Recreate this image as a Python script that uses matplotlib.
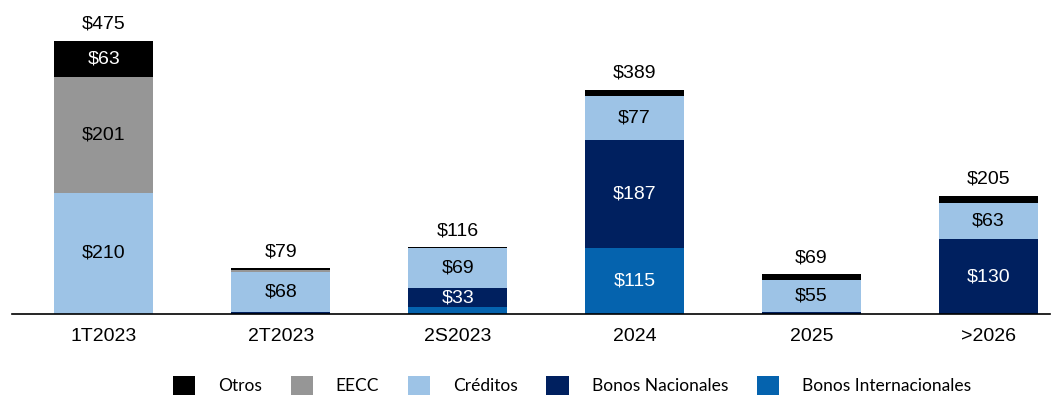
import numpy as np
import matplotlib.pyplot as plt
from matplotlib.patches import Patch

# Vencimientos por periodo (MM$)
periods = ['1T2023', '2T2023', '2S2023', '2024', '2025', '>2026']
bonos_int = [0, 0, 12, 115, 0, 0]
bonos_nac = [0, 4, 33, 187, 4, 130]
creditos = [210, 68, 69, 77, 55, 63]
eecc = [201, 5, 0, 0, 0, 0]
otros = [63, 2, 2, 10, 10, 12]
totals = [475, 79, 116, 389, 69, 205]

series = [
    ('Bonos Internacionales', bonos_int, '#0563AE', 'white'),
    ('Bonos Nacionales', bonos_nac, '#00205F', 'white'),
    ('Créditos', creditos, '#9DC3E6', 'black'),
    ('EECC', eecc, '#969696', 'black'),
    ('Otros', otros, '#000000', 'white'),
]

plt.rcParams['font.family'] = ['Liberation Sans', 'DejaVu Sans']

fig = plt.figure(figsize=(10.59, 3.97), dpi=100)
ax = fig.add_axes([12 / 1059, 83 / 397, 1038 / 1059, 309 / 397])

x = np.arange(len(periods))
bottom = np.zeros(len(periods))
for name, vals, color, txt in series:
    vals = np.array(vals, dtype=float)
    ax.bar(x, vals, 0.56, bottom=bottom, color=color, edgecolor='none')
    for xi, v, b in zip(x, vals, bottom):
        if v >= 25:
            ax.text(xi, b + v / 2, f'${v:.0f}', ha='center', va='center',
                    color=txt, fontsize=14)
    bottom += vals

for xi, top, t in zip(x, bottom, totals):
    ax.text(xi, top + 14, f'${t}', ha='center', va='bottom', fontsize=14)

ax.set_xlim(-0.52, 5.35)
ax.set_ylim(0, 536)
ax.set_xticks(x)
ax.set_xticklabels(periods, fontsize=14)
ax.tick_params(axis='x', length=0, pad=10)
ax.set_yticks([])
for s in ['top', 'right', 'left']:
    ax.spines[s].set_visible(False)
ax.spines['bottom'].set_linewidth(1.2)

handles = [Patch(facecolor=c, edgecolor='none') for _, _, c, _ in series[::-1]]
labels = [n for n, _, _, _ in series[::-1]]
fig.legend(handles, labels, loc='center', bbox_to_anchor=(0.54, 0.03),
           ncol=5, frameon=False, handlelength=1.3, handleheight=1.3,
           handletextpad=1.3, columnspacing=1.65,
           prop={'family': ['Lato', 'DejaVu Sans'], 'size': 12.5})

fig.savefig('out.png', dpi=100)
